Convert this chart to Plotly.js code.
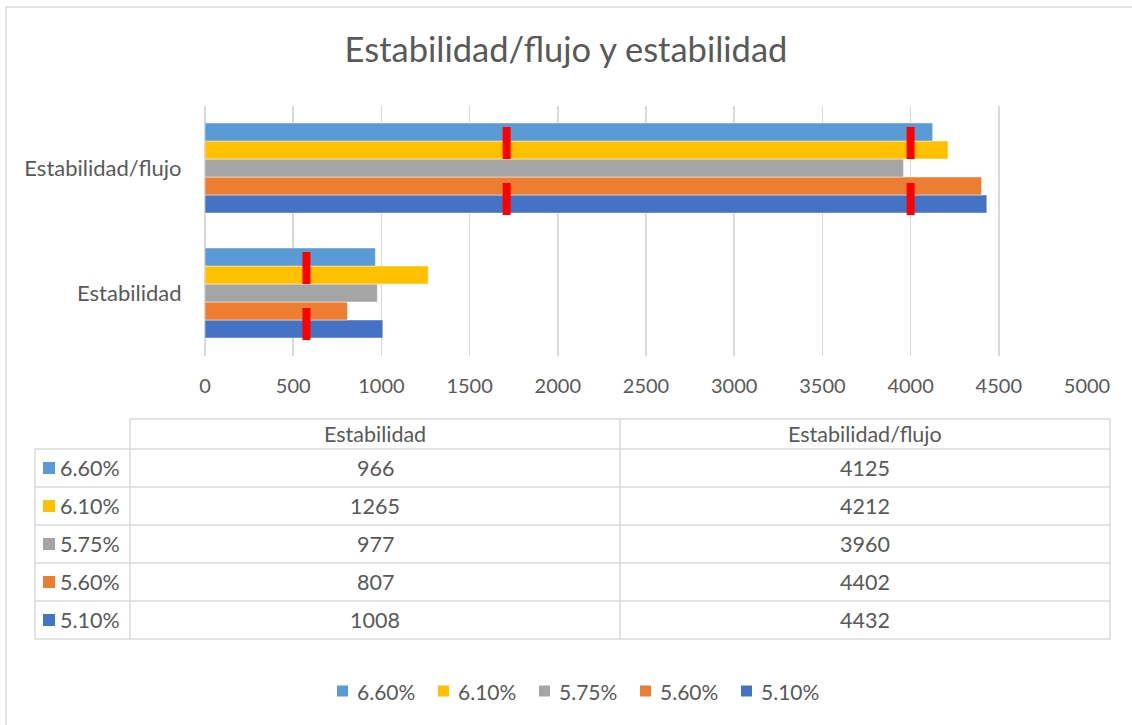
<!DOCTYPE html>
<html><head><meta charset="utf-8">
<script src="https://cdn.plot.ly/plotly-3.0.1.min.js"></script>
<style>html,body{margin:0;padding:0;background:#fff}#chart{width:1132px;height:725px}</style>
</head><body><div id="chart"></div>
<script>
// ---- data ----
const categories = ['Estabilidad', 'Estabilidad/flujo'];
const seriesNames = ['6.60%', '6.10%', '5.75%', '5.60%', '5.10%'];
const seriesColors = ['#5B9BD5', '#FFC000', '#A5A5A5', '#ED7D31', '#4472C4'];
const estabilidad = [966, 1265, 977, 807, 1008];
const estabilidadFlujo = [4125, 4212, 3960, 4402, 4432];
const limitEstabilidad = [575];
const limitFlujo = [1710, 4000];
const xTickVals = [0, 500, 1000, 1500, 2000, 2500, 3000, 3500, 4000, 4500, 5000];
const chartTitle = 'Estabilidad/flujo y estabilidad';

// ---- layout helpers ----
const W = 1132, H = 725;
const px = x => x / W;
const py = y => 1 - y / H;
const FONT = 'Lato, "Open Sans", sans-serif';
const TXT = '#595959';
const GRID = '#d9d9d9';

// traces: reverse so 6.60% ends on top of each group
const traces = [];
for (let i = seriesNames.length - 1; i >= 0; i--) {
  traces.push({
    type: 'bar', orientation: 'h', name: seriesNames[i],
    y: categories, x: [estabilidad[i], estabilidadFlujo[i]],
    marker: {color: seriesColors[i], line: {color: 'rgba(255,255,255,0.45)', width: 1}},
    hoverinfo: 'x+name', showlegend: false
  });
}

const shapes = [];
const annotations = [];

// red limit markers
function addMarkers(catIndex, limits) {
  limits.forEach(v => {
    [[9, 41], [-47, -15]].forEach(([a, b]) => {
      shapes.push({type: 'rect', xref: 'x', yref: 'y', xsizemode: 'pixel', ysizemode: 'pixel',
        xanchor: v, yanchor: catIndex, x0: -4, x1: 4, y0: a, y1: b,
        fillcolor: '#FF0000', line: {width: 0}, layer: 'above'});
    });
  });
}
addMarkers(0, limitEstabilidad);
addMarkers(1, limitFlujo);

// outer chart border
shapes.push({type: 'rect', xref: 'paper', yref: 'paper', x0: px(6), x1: px(1145), y0: py(7), y1: py(740),
  line: {color: GRID, width: 1.5}, fillcolor: 'rgba(0,0,0,0)', layer: 'below'});

// data table
const tTop = 419, hdrBottom = 449, rowH = 38;
const xL = 35, xC1 = 130, xC2 = 620, xR = 1110;
const tBottom = hdrBottom + rowH * seriesNames.length;
function line(x0, y0, x1, y1) {
  shapes.push({type: 'line', xref: 'paper', yref: 'paper', x0: px(x0), y0: py(y0), x1: px(x1), y1: py(y1),
    line: {color: GRID, width: 1.5}});
}
line(xC1, tTop, xR, tTop);
for (let k = 0; k <= seriesNames.length; k++) line(xL, hdrBottom + rowH * k, xR, hdrBottom + rowH * k);
line(xL, hdrBottom, xL, tBottom);
line(xC1, tTop, xC1, tBottom);
line(xC2, tTop, xC2, tBottom);
line(xR, tTop, xR, tBottom);

const tfont = {family: FONT, size: 21.5, color: TXT};
const colCenters = [(xC1 + xC2) / 2, (xC2 + xR) / 2];
categories.forEach((c, j) => {
  annotations.push({xref: 'paper', yref: 'paper', x: px(colCenters[j]), y: py((tTop + hdrBottom) / 2),
    text: c, showarrow: false, xanchor: 'center', yanchor: 'middle', font: tfont});
});
const tableCols = [estabilidad, estabilidadFlujo];
seriesNames.forEach((s, i) => {
  const yc = hdrBottom + rowH * i + rowH / 2;
  shapes.push({type: 'rect', xref: 'paper', yref: 'paper', x0: px(43), x1: px(55), y0: py(yc - 6), y1: py(yc + 6),
    fillcolor: seriesColors[i], line: {width: 0}});
  annotations.push({xref: 'paper', yref: 'paper', x: px(58), y: py(yc), text: s, showarrow: false,
    xanchor: 'left', yanchor: 'middle', font: tfont});
  tableCols.forEach((col, j) => {
    annotations.push({xref: 'paper', yref: 'paper', x: px(colCenters[j]), y: py(yc), text: String(col[i]),
      showarrow: false, xanchor: 'center', yanchor: 'middle', font: tfont});
  });
});

// bottom legend (drawn manually for exact key/text spacing)
const legY = 691, legX0 = 337, legStep = 101;
seriesNames.forEach((s, i) => {
  const x = legX0 + legStep * i;
  shapes.push({type: 'rect', xref: 'paper', yref: 'paper', x0: px(x), x1: px(x + 11), y0: py(legY - 5.5), y1: py(legY + 5.5),
    fillcolor: seriesColors[i], line: {width: 0}});
  annotations.push({xref: 'paper', yref: 'paper', x: px(x + 18), y: py(legY), text: s, showarrow: false,
    xanchor: 'left', yanchor: 'middle', font: {family: FONT, size: 21, color: TXT}});
});

const layout = {
  width: W, height: H,
  margin: {l: 0, r: 0, t: 0, b: 0},
  paper_bgcolor: '#fff', plot_bgcolor: '#fff',
  font: {family: FONT, color: TXT},
  title: {text: chartTitle, x: 0.5, xanchor: 'center', xref: 'container', y: 1 - 50 / H, yanchor: 'middle', yref: 'container',
    font: {family: FONT, size: 34.5, color: TXT}},
  barmode: 'group', bargap: 0.28, bargroupgap: 0,
  xaxis: {domain: [px(205), px(1087)], range: [0, 5000], tickvals: xTickVals, showgrid: true, gridcolor: GRID, gridwidth: 1.5,
    zeroline: true, zerolinecolor: GRID, zerolinewidth: 1.5, showline: false,
    ticks: 'outside', ticklen: 12, tickcolor: 'rgba(0,0,0,0)', tickfont: {family: FONT, size: 20, color: TXT}, fixedrange: true},
  yaxis: {domain: [py(355.5), py(105.5)], type: 'category', categoryorder: 'array', categoryarray: categories,
    range: [-0.5, 1.5], showgrid: false, zeroline: false, showline: false,
    ticks: 'outside', ticklen: 18, tickcolor: 'rgba(0,0,0,0)', tickfont: {family: FONT, size: 22, color: TXT}, fixedrange: true},
  showlegend: false,
  shapes: shapes, annotations: annotations
};

Plotly.newPlot('chart', traces, layout, {displayModeBar: false, staticPlot: true});
</script></body></html>
